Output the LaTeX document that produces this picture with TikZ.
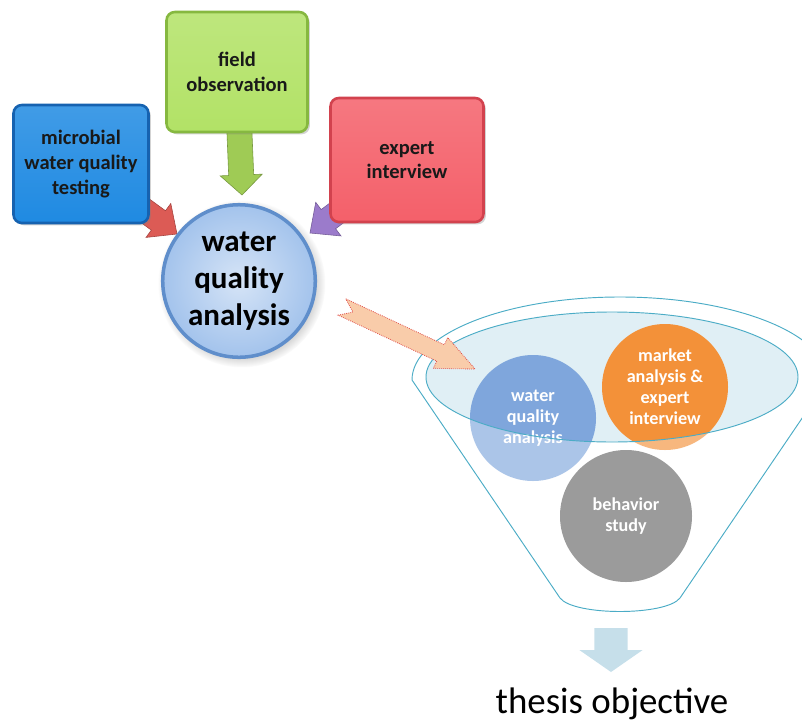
\documentclass[tikz,border=0pt]{standalone}
\usepackage{fontspec}
\setmainfont{Carlito}
\usepackage{tikz}
\usetikzlibrary{calc, shadows}
\pgfdeclarelayer{bg}
\pgfsetlayers{bg,main}
\definecolor{boxblue}{HTML}{1F8AE2}
\definecolor{blueedge}{HTML}{1662B0}
\definecolor{boxgreen}{HTML}{B2E266}
\definecolor{greenedge}{HTML}{86B840}
\definecolor{boxred}{HTML}{F4606A}
\definecolor{rededge}{HTML}{D2424E}
\definecolor{wqblue}{HTML}{A3C3EC}
\definecolor{wqrim}{HTML}{5F8ECB}
\definecolor{arrred}{HTML}{DC5B55}
\definecolor{arrpurple}{HTML}{9B7BCB}
\definecolor{arrgreen}{HTML}{9FCB55}
\definecolor{peach}{HTML}{F9CCAA}
\definecolor{peachedge}{HTML}{E0524E}
\definecolor{funnelline}{HTML}{4BACC6}
\definecolor{funnelfill}{HTML}{E0EFF5}
\definecolor{cblue}{HTML}{7FA6DC}
\definecolor{corange}{HTML}{F39139}
\definecolor{cgray}{HTML}{666666}
\definecolor{downblue}{HTML}{C6DFEA}

% block arrow: style, from, to, half shaft, half head, head length, notch
\newcommand{\blockarrow}[7]{%
  \coordinate (ba-h) at ($(#3)!#6!(#2)$);
  \path[#1] ($(#2)!#4!90:(#3)$) -- ($(ba-h)!#4!-90:(#2)$) -- ($(ba-h)!#5!-90:(#2)$)
    -- (#3) -- ($(ba-h)!#5!90:(#2)$) -- ($(ba-h)!#4!90:(#2)$)
    -- ($(#2)!#4!-90:(#3)$) -- ($(#2)!#7!(#3)$) -- cycle;}

\begin{document}
\begin{tikzpicture}[
    x=0.03cm, y=-0.03cm,
    every node/.style={align=center},
    box/.style={rectangle, rounded corners=0.25cm, line width=2.2pt, text=black!90,
                font=\fontsize{17.5}{21}\selectfont\bfseries,
                drop shadow={shadow xshift=2pt, shadow yshift=-2pt, opacity=0.35}},
    bigcircle/.style={circle, minimum size=4.56cm, draw=wqrim, line width=3pt,
                inner color=wqblue!45!white, outer color=wqblue,
                font=\fontsize{26.5}{31.5}\selectfont\bfseries,
                circular drop shadow={shadow xshift=2pt, shadow yshift=-2pt, opacity=0.4}},
    fcircle/.style={circle, minimum size=3.78cm, text=white,
                font=\fontsize{15.5}{18}\selectfont\bfseries},
    funnel shape/.style={insert path={(412,380) arc[start angle=180, end angle=0,
                x radius=6.24cm, y radius=2.49cm] -- (680,598)
                .. controls (666,616) and (574,616) .. (560,598) -- cycle}}
]
\useasboundingbox (0,0) rectangle (802,724);

% --- Source boxes ---
\node[box, minimum width=4.05cm, minimum height=3.54cm, draw=blueedge,
      top color=boxblue!85!white, bottom color=boxblue] (mwq) at (81,164)
      {microbial\\water quality\\testing};
\node[box, minimum width=4.23cm, minimum height=3.6cm, draw=greenedge,
      top color=boxgreen!85!white, bottom color=boxgreen] (fo) at (237,72)
      {field\\observation};
\node[box, minimum width=4.59cm, minimum height=3.72cm, draw=rededge,
      top color=boxred!85!white, bottom color=boxred] (ei) at (407,160)
      {expert\\interview};

% --- Central circle ---
\node[bigcircle] (wqa) at (239,281) {water\\quality\\analysis};

% --- Arrows into the circle ---
\coordinate (tipR) at (177,234);
\coordinate (tipG) at (242,195);
\coordinate (tipP) at (310,233);
\begin{pgfonlayer}{bg}
  \blockarrow{fill=arrred, draw=arrred!75!black, line width=0.5pt}{mwq}{tipR}{0.36cm}{0.63cm}{0.69cm}{0pt}
  \blockarrow{fill=arrgreen, draw=arrgreen!75!black, line width=0.5pt}{fo}{tipG}{0.375cm}{0.63cm}{0.6cm}{0pt}
  \blockarrow{fill=arrpurple, draw=arrpurple!75!black, line width=0.5pt}{ei}{tipP}{0.36cm}{0.63cm}{0.69cm}{0pt}
\end{pgfonlayer}

% --- Funnel ---
\path[fill=white, funnel shape];
\fill[funnelfill] (612,377) ellipse[x radius=5.58cm, y radius=1.95cm];
\node[fcircle, fill=cblue] (fwqa) at (533,418) {water\\quality\\analysis};
\node[fcircle, fill=corange] (market) at (665,387) {market\\analysis \&\\expert\\interview};
\node[fcircle, fill=cgray, minimum size=3.96cm] (behav) at (626,516) {behavior\\study};
\path[fill=white, fill opacity=0.35, even odd rule, funnel shape]
  (612,377) ellipse[x radius=5.58cm, y radius=1.95cm];
\draw[funnelline, line width=0.8pt, funnel shape];
\draw[funnelline, line width=0.8pt] (612,377) ellipse[x radius=5.58cm, y radius=1.95cm];

% --- Arrow into the funnel ---
\coordinate (tailQ) at (342,307);
\coordinate (tipQ) at (475,369);
\blockarrow{fill=peach, draw=peachedge, densely dotted, line width=0.7pt}{tailQ}{tipQ}{0.27cm}{0.51cm}{1.14cm}{0.36cm}

% --- Output ---
\coordinate (fbot) at (611,628);
\coordinate (tipD) at (611,672);
\blockarrow{fill=downblue}{fbot}{tipD}{0.5cm}{0.95cm}{0.66cm}{0pt}
\node[font=\fontsize{31.5}{36}\selectfont] (thesis) at (612,704) {thesis objective};

\end{tikzpicture}
\end{document}
